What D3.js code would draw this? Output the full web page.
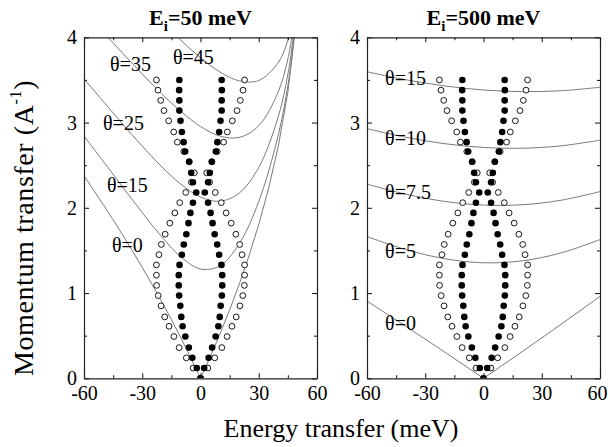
<!DOCTYPE html>
<html>
<head>
<meta charset="utf-8">
<script src="https://cdn.jsdelivr.net/npm/d3@7"></script>
<style>
  body { margin: 0; background: #fff; }
  svg { display: block; }
  svg text { font-family: "Liberation Serif", "Times New Roman", serif; }
</style>
</head>
<body>
<svg id="chart" width="610" height="447"></svg>
<script>
// ---- data ----
// momentum rows of the dispersion points (A^-1)
const qRows = [0, 0.12, 0.24, 0.36, 0.49, 0.61, 0.72, 0.85, 0.97, 1.09, 1.21, 1.33, 1.45,
  1.57, 1.69, 1.82, 1.94, 2.06, 2.18, 2.30, 2.41, 2.54, 2.66, 2.77, 2.89, 3.02, 3.14,
  3.26, 3.38, 3.50];
// |energy| of the filled branch (meV), drawn at +/- value
const filledE = [0, 1.9, 4.2, 6.0, 7.8, 9.2, 9.9, 10.4, 11.0, 11.2, 11.2, 10.8, 9.6,
  8.6, 7.3, 6.2, 5.2, 3.9, 2.2, 3.9, 4.8, 5.8, 7.9, 8.7, 9.6, 10.3, 10.9,
  10.9, 11.0, 10.9];
// |energy| of the open branch (meV)
const openE = [0, 3.8, 7.3, 11.0, 13.7, 16.2, 18.4, 20.3, 21.8, 22.6, 22.7, 22.7, 21.4,
  20.2, 18.2, 15.8, 13.2, 10.7, 7.6, 4.7, 3.2, 5.9, 8.6, 11.9, 13.8, 16.4, 18.8,
  20.5, 21.9, 22.7];

// scattering-angle limits, Ei = 50 meV: [energy transfer, Q]
const left_t0 = [[-60, 2.374], [-55, 2.206], [-50, 2.035], [-45, 1.859], [-40, 1.678],
  [-35, 1.493], [-30, 1.301], [-25, 1.104], [-20, 0.900], [-15, 0.689], [-10, 0.469],
  [-5, 0.240], [0, 0], [5, 0.252], [10, 0.519], [15, 0.802], [20, 1.107], [25, 1.439],
  [30, 1.805], [35, 2.222], [40, 2.715], [45, 3.359], [48, 3.930], [49, 4.218]];
const left_t15 = [[-60, 2.842], [-50, 2.543], [-40, 2.241], [-30, 1.943], [-20, 1.660],
  [-10, 1.422], [0, 1.282], [10, 1.319], [20, 1.581], [30, 2.074], [40, 2.848],
  [45, 3.435], [48, 3.972], [49, 4.245]];
const left_t25 = [[-60, 3.513], [-50, 3.246], [-40, 2.980], [-30, 2.723], [-20, 2.482],
  [-10, 2.275], [0, 2.127], [10, 2.077], [20, 2.174], [30, 2.474], [40, 3.065],
  [45, 3.565], [48, 4.043]];
const left_t35 = [[-60, 4.311], [-50, 4.060], [-40, 3.811], [-30, 3.569], [-20, 3.337],
  [-10, 3.128], [0, 2.954], [10, 2.842], [20, 2.826], [30, 2.963], [40, 3.358],
  [45, 3.747], [48, 4.146]];
const left_t45 = [[-20, 4.188], [-10, 3.963], [0, 3.760], [10, 3.593], [20, 3.489],
  [30, 3.493], [40, 3.701], [45, 3.969], [48, 4.275]];

// Ei = 500 meV
const right_t0 = [[-60, 0.906], [-40, 0.610], [-20, 0.308], [0, 0], [20, 0.314], [40, 0.634], [60, 0.961]];
const right_t5 = [[-60, 1.663], [-40, 1.510], [-20, 1.403], [0, 1.355], [20, 1.378], [40, 1.471], [60, 1.627]];
const right_t75 = [[-60, 2.278], [-40, 2.160], [-20, 2.075], [0, 2.032], [20, 2.036], [40, 2.089], [60, 2.190]];
const right_t10 = [[-60, 2.929], [-40, 2.827], [-20, 2.752], [0, 2.708], [20, 2.699], [40, 2.727], [60, 2.793]];
const right_t15 = [[-60, 3.596], [-40, 3.502], [-20, 3.430], [0, 3.382], [20, 3.363], [40, 3.373], [60, 3.414]];

// curve annotations: [text, energy, Q]
const leftLabels = [["θ=0", -45.6, 1.48], ["θ=15", -48.2, 2.19], ["θ=25", -50.2, 2.91],
  ["θ=35", -46.6, 3.60], ["θ=45", -14.2, 3.69]];
const rightLabels = [["θ=0", -50.7, 0.57], ["θ=5", -50.7, 1.415], ["θ=7.5", -50.7, 2.10],
  ["θ=10", -50.7, 2.74], ["θ=15", -50.7, 3.44]];

const xMajor = [-60, -30, 0, 30, 60], xMinor = [-45, -15, 15, 45];
const yMajor = [0, 1, 2, 3, 4], yMinor = [0.5, 1.5, 2.5, 3.5];

// ---- layout ----
const serif = "'Liberation Serif', 'Times New Roman', serif";
const svg = d3.select("#chart");
const plotTop = 37.3, plotBottom = 378.3, panelW = 233;

const panels = [
  { x0: 84, ei: "50", curves: [left_t0, left_t15, left_t25, left_t35, left_t45], labels: leftLabels },
  { x0: 367, ei: "500", curves: [right_t0, right_t5, right_t75, right_t10, right_t15], labels: rightLabels }
];

const y = d3.scaleLinear().domain([0, 4]).range([plotBottom, plotTop]);

// mirrored dot positions
function branch(vals) {
  const pts = [];
  vals.forEach((e, i) => {
    if (e === 0) pts.push([0, qRows[i]]);
    else { pts.push([-e, qRows[i]]); pts.push([e, qRows[i]]); }
  });
  return pts;
}
const openPts = branch(openE), filledPts = branch(filledE);

panels.forEach((p, pi) => {
  const x = d3.scaleLinear().domain([-60, 60]).range([p.x0, p.x0 + panelW]);
  const g = svg.append("g");

  g.append("clipPath").attr("id", "clip" + pi)
    .append("rect")
    .attr("x", p.x0).attr("y", plotTop)
    .attr("width", panelW).attr("height", plotBottom - plotTop);

  const inner = g.append("g").attr("clip-path", `url(#clip${pi})`);

  // angle curves
  p.curves.forEach(c => {
    const straight = c.some(d => d[1] === 0);
    const line = d3.line()
      .x(d => x(d[0]))
      .y(d => y(d[1]))
      .curve(straight ? d3.curveLinear : d3.curveCatmullRom.alpha(0.5));
    inner.append("path")
      .datum(c)
      .attr("d", line)
      .attr("fill", "none")
      .attr("stroke", "#7a7a7a")
      .attr("stroke-width", 1);
  });

  // open points
  inner.selectAll(".open")
    .data(openPts)
    .enter().append("circle")
    .attr("cx", d => x(d[0]))
    .attr("cy", d => y(d[1]))
    .attr("r", 2.9)
    .attr("fill", "#fff")
    .attr("stroke", "#000")
    .attr("stroke-width", 0.9);

  // filled points
  inner.selectAll(".filled")
    .data(filledPts)
    .enter().append("circle")
    .attr("cx", d => x(d[0]))
    .attr("cy", d => y(d[1]))
    .attr("r", 3.3)
    .attr("fill", "#000");

  // curve labels
  g.selectAll(".lab")
    .data(p.labels)
    .enter().append("text")
    .attr("x", d => x(d[1]))
    .attr("y", d => y(d[2]))
    .attr("font-family", serif)
    .attr("font-size", 20)
    .attr("fill", "#000")
    .text(d => d[0]);

  // axes, ticks pointing inward
  const styleAxis = sel => {
    sel.attr("font-family", serif).attr("font-size", 20);
    sel.select(".domain").attr("stroke", "#222").attr("stroke-width", 1.2);
    sel.selectAll(".tick line").attr("stroke", "#222").attr("stroke-width", 1.1);
  };

  const bottom = g.append("g")
    .attr("transform", `translate(0,${plotBottom})`)
    .call(d3.axisBottom(x).tickValues(xMajor).tickSize(-5).tickSizeOuter(0)
      .tickFormat(d => String(d)))
    .call(styleAxis);
  bottom.selectAll("text")
    .attr("dy", null).attr("y", 21.5)
    .attr("font-family", serif).attr("fill", "#000");
  if (pi === 1) bottom.selectAll(".tick:last-of-type text").attr("dx", -3);

  g.append("g")
    .attr("transform", `translate(0,${plotBottom})`)
    .call(d3.axisBottom(x).tickValues(xMinor).tickSize(-3).tickFormat(""))
    .call(s => s.select(".domain").remove())
    .call(styleAxis);

  g.append("g")
    .attr("transform", `translate(0,${plotTop})`)
    .call(d3.axisTop(x).tickValues(xMajor).tickSize(-5).tickSizeOuter(0).tickFormat(""))
    .call(styleAxis);
  g.append("g")
    .attr("transform", `translate(0,${plotTop})`)
    .call(d3.axisTop(x).tickValues(xMinor).tickSize(-3).tickFormat(""))
    .call(s => s.select(".domain").remove())
    .call(styleAxis);

  const left = g.append("g")
    .attr("transform", `translate(${p.x0},0)`)
    .call(d3.axisLeft(y).tickValues(yMajor).tickSize(-5).tickSizeOuter(0)
      .tickFormat(d => String(d)))
    .call(styleAxis);
  left.selectAll("text")
    .attr("dy", null).attr("x", -7).attr("y", 6.5)
    .attr("font-family", serif).attr("fill", "#000");

  g.append("g")
    .attr("transform", `translate(${p.x0},0)`)
    .call(d3.axisLeft(y).tickValues(yMinor).tickSize(-3).tickFormat(""))
    .call(s => s.select(".domain").remove())
    .call(styleAxis);

  g.append("g")
    .attr("transform", `translate(${p.x0 + panelW},0)`)
    .call(d3.axisRight(y).tickValues(yMajor).tickSize(-5).tickSizeOuter(0).tickFormat(""))
    .call(styleAxis);
  g.append("g")
    .attr("transform", `translate(${p.x0 + panelW},0)`)
    .call(d3.axisRight(y).tickValues(yMinor).tickSize(-3).tickFormat(""))
    .call(s => s.select(".domain").remove())
    .call(styleAxis);

  // panel title  E_i = ... meV
  const title = g.append("text")
    .attr("x", p.x0 + panelW / 2)
    .attr("y", 25)
    .attr("text-anchor", "middle")
    .attr("font-family", serif)
    .attr("font-size", 22)
    .attr("font-weight", "bold");
  title.append("tspan").text("E");
  title.append("tspan").attr("font-size", 15).attr("dy", 6).text("i");
  title.append("tspan").attr("dy", -6).text(`=${p.ei} meV`);
});

// axis titles
svg.append("text")
  .attr("x", 341)
  .attr("y", 437)
  .attr("text-anchor", "middle")
  .attr("font-family", serif)
  .attr("font-size", 26)
  .text("Energy transfer (meV)");

const yl = svg.append("text")
  .attr("transform", "translate(33,228) rotate(-90)")
  .attr("text-anchor", "middle")
  .attr("font-family", serif)
  .attr("font-size", 28)
  .attr("letter-spacing", 0.6);
yl.append("tspan").text("Momentum transfer (A");
yl.append("tspan").attr("font-size", 16).attr("dy", -12).text("-1");
yl.append("tspan").attr("dy", 12).text(")");
</script>
</body>
</html>
